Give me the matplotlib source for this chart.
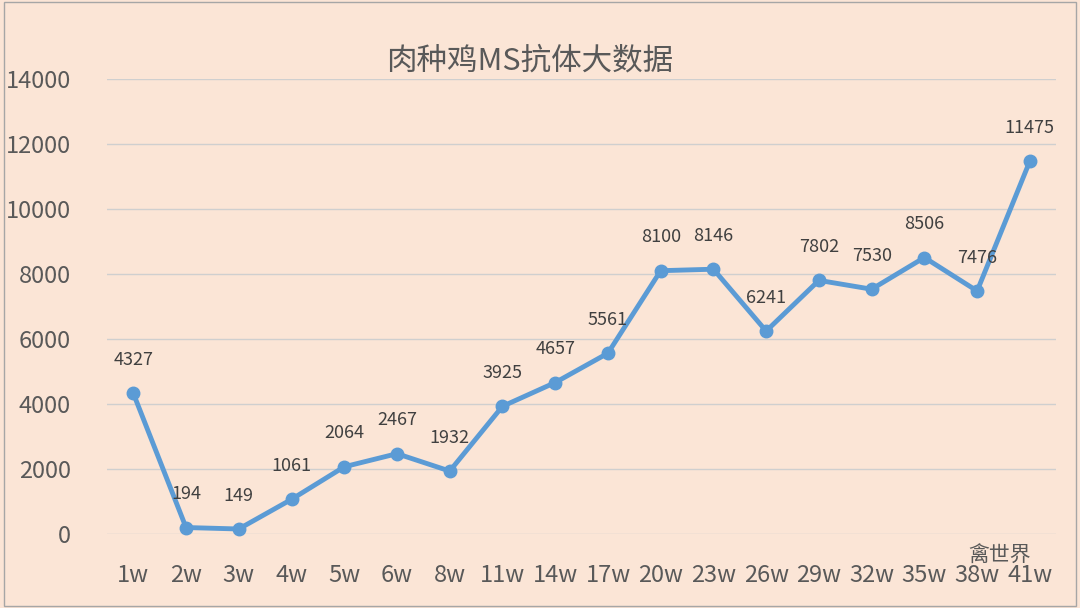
import matplotlib
matplotlib.use('Agg')
import matplotlib.pyplot as plt
from matplotlib.patches import Rectangle

plt.rcParams['font.family'] = ['Noto Sans CJK SC', 'DejaVu Sans']

weeks = ["1w", "2w", "3w", "4w", "5w", "6w", "8w", "11w", "14w", "17w",
         "20w", "23w", "26w", "29w", "32w", "35w", "38w", "41w"]
titers = [4327, 194, 149, 1061, 2064, 2467, 1932, 3925, 4657, 5561,
          8100, 8146, 6241, 7802, 7530, 8506, 7476, 11475]
yticks = [0, 2000, 4000, 6000, 8000, 10000, 12000, 14000]

bg = "#FBE5D6"
fig = plt.figure(figsize=(10.8, 6.08), dpi=100, facecolor=bg)
fig.patches.append(Rectangle((0.004, 0.004), 0.992, 0.992, transform=fig.transFigure,
                             fill=False, edgecolor="#A6A6A6", lw=1))
ax = fig.add_axes([0.099, 0.122, 0.879, 0.748], facecolor=bg)

x = list(range(len(weeks)))
ax.plot(x, titers, color="#5B9BD5", lw=3.5, marker="o", ms=9, clip_on=False, zorder=3)
for xi, v in zip(x, titers):
    ax.text(xi, v + 750, str(v), ha="center", va="bottom", fontsize=13, color="#404040")

ax.set_xlim(-0.5, len(weeks) - 0.5)
ax.set_ylim(0, 14000)
ax.set_yticks(yticks)
ax.set_xticks(x)
ax.set_xticklabels(weeks)
ax.grid(axis="y", color="#CFCFCF", lw=1)
ax.set_axisbelow(True)
for s in ax.spines.values():
    s.set_visible(False)
ax.tick_params(length=0, labelsize=17, labelcolor="#595959")
ax.tick_params(axis="x", pad=22)
ax.tick_params(axis="y", pad=26)

fig.text(0.49, 0.9, "肉种鸡MS抗体大数据", ha="center", va="center", fontsize=22, color="#595959")
fig.text(0.955, 0.085, "禽世界", ha="right", va="center", fontsize=15, color="#595959")

fig.savefig("out.png", dpi=100, facecolor=bg)
